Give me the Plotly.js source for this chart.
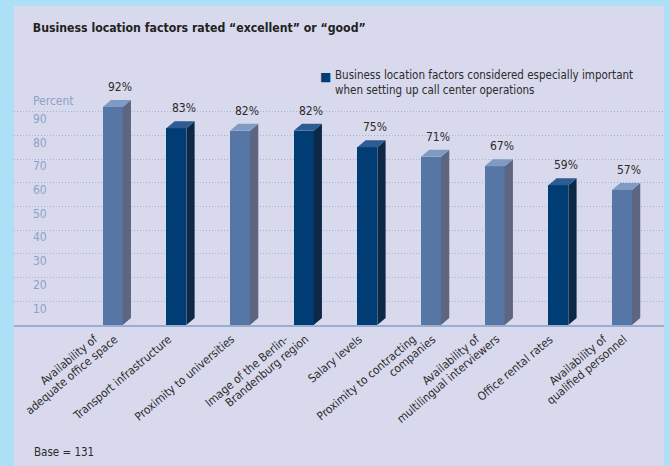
<!DOCTYPE html>
<html>
<head>
<meta charset="utf-8">
<script src="https://cdn.plot.ly/plotly-3.0.1.min.js"></script>
<style>html,body{margin:0;padding:0;background:#ade0f6;}#chart{width:670px;height:466px;}</style>
</head>
<body>
<div id="chart"></div>
<script>
// ---- data ----
const categories = [
  "Availability of<br>adequate office space",
  "Transport infrastructure",
  "Proximity to universities",
  "Image of the Berlin-<br>Brandenburg region",
  "Salary levels",
  "Proximity to contracting<br>companies",
  "Availability of<br>multilingual interviewers",
  "Office rental rates",
  "Availability of<br>qualified personnel"
];
const values = [92, 83, 82, 82, 75, 71, 67, 59, 57];
const important = [false, true, false, true, true, false, false, true, false];
const yTicks = [10, 20, 30, 40, 50, 60, 70, 80, 90];
const legendText = "Business location factors considered especially important<br>when setting up call center operations";

// ---- style ----
const FONT = "'Liberation Sans Narrow', 'DejaVu Sans Condensed', 'Noto Sans', sans-serif";
const TXT = "#2b2b2b";
const light = {front: "#5676a6", side: "#5d6580", top: "#7f9bc5"};
const dark  = {front: "#003d74", side: "#0c2846", top: "#2d5b93"};
const W = 0.314;   // front width in category units
const DX = 0.13;   // depth offset x
const DY = 2.95;   // depth offset y

const idx = values.map((v, i) => i);
function frontTrace(flag, c) {
  const xs = [], ys = [];
  idx.forEach(i => { if (important[i] === flag) { xs.push(i); ys.push(values[i]); } });
  return {type: "bar", x: xs, y: ys, width: W, marker: {color: c.front, line: {width: 0}},
          showlegend: false, hoverinfo: "skip"};
}
function sideTrace(flag, c) {
  const xs = [], ys = [];
  idx.forEach(i => {
    if (important[i] !== flag) return;
    const r = i + W / 2, v = values[i];
    xs.push(r, r + DX, r + DX, r, r, null);
    ys.push(0, DY, v + DY, v, 0, null);
  });
  return {type: "scatter", mode: "lines", x: xs, y: ys, fill: "toself", fillcolor: c.side,
          line: {width: 0, color: c.side}, showlegend: false, hoverinfo: "skip"};
}
function topTrace(flag, c) {
  const xs = [], ys = [];
  idx.forEach(i => {
    if (important[i] !== flag) return;
    const l = i - W / 2, r = i + W / 2, v = values[i];
    xs.push(l, r, r + DX, l + DX, l, null);
    ys.push(v, v, v + DY, v + DY, v, null);
  });
  return {type: "scatter", mode: "lines", x: xs, y: ys, fill: "toself", fillcolor: c.top,
          line: {width: 0, color: c.top}, showlegend: false, hoverinfo: "skip"};
}

const data = [
  frontTrace(false, light), frontTrace(true, dark),
  sideTrace(false, light), sideTrace(true, dark),
  topTrace(false, light), topTrace(true, dark)
];

// value labels
const annotations = values.map((v, i) => ({
  x: i + DX / 2 + 0.05, y: v + DY, xref: "x", yref: "y", text: v + "%",
  showarrow: false, yanchor: "bottom", yshift: 4,
  font: {family: FONT, size: 12, color: TXT}
}));
// category labels: each line rotated, its end hugging the axis
const TICK_SIZE = 11.6, LINE_H = TICK_SIZE * 1.3;
const ang = 40 * Math.PI / 180;
categories.forEach((c, i) => {
  const lines = c.split("<br>");
  const offs = lines.length === 1 ? [-1] : [-11, 9];
  lines.forEach((ln, k) => {
    annotations.push({
      x: i, y: 0, xref: "x", yref: "y", text: ln, textangle: -40,
      xanchor: "right", yanchor: "top", showarrow: false, borderpad: 0,
      xshift: offs[k] - 5 + LINE_H * Math.sin(ang) / 2, yshift: LINE_H * Math.cos(ang) / 2 - 12,
      font: {family: FONT, size: TICK_SIZE, color: TXT}
    });
  });
});
annotations.push({
  xref: "paper", yref: "paper", x: 0.027, y: 0.945, xanchor: "left", yanchor: "middle",
  text: "Percent", showarrow: false, borderpad: 0, font: {family: FONT, size: 12, color: "#8ea2c9"}
});
annotations.push({
  xref: "paper", yref: "paper", x: 0.029, y: -0.535, xanchor: "left", yanchor: "middle",
  text: "Base = 131", showarrow: false, borderpad: 0, font: {family: FONT, size: 11.5, color: TXT}
});
// legend (key square + text)
annotations.push({
  xref: "paper", yref: "paper", x: (325.5 - 14) / 650, y: 1 + (88 - 76.5) / 237,
  xanchor: "center", yanchor: "middle", text: "■", showarrow: false, borderpad: 0,
  font: {family: "DejaVu Sans", size: 12, color: dark.front}
});
annotations.push({
  xref: "paper", yref: "paper", x: (334 - 14) / 650, y: 1 + (88 - 67) / 237,
  xanchor: "left", yanchor: "top", align: "left", text: legendText, showarrow: false, borderpad: 0,
  font: {family: FONT, size: 11.5, color: TXT}
});

const layout = {
  width: 670, height: 466,
  margin: {l: 14, r: 6, t: 88, b: 141, pad: 0, autoexpand: false},
  paper_bgcolor: "#ade0f6",
  plot_bgcolor: "rgba(0,0,0,0)",
  title: {text: "Business location factors rated “excellent” or “good”",
          font: {family: FONT, size: 12.2, color: "#222", weight: "bold"},
          x: 0.029, xanchor: "left", xref: "paper", y: 0.94, yanchor: "middle", yref: "container"},
  showlegend: false,
  xaxis: {range: [-1.55, 8.66], tickvals: idx, showticklabels: false, automargin: false,
          showgrid: false, zeroline: false, showline: true, linecolor: "#9aaed3", linewidth: 2,
          ticks: "", fixedrange: true},
  yaxis: {range: [0, 100], tickvals: yTicks, showgrid: true, gridcolor: "#9fb2d8", griddash: "1px,2px",
          gridwidth: 1, zeroline: false, showline: false, ticks: "", automargin: false,
          ticklabelposition: "inside", ticklabelshift: 7, ticklabelstandoff: 16,
          tickfont: {family: FONT, size: 12, color: "#8ea2c9"}, fixedrange: true},
  shapes: [{type: "rect", xref: "paper", yref: "paper", x0: 0, x1: 1,
            y0: -141 / 237, y1: 1 + 82 / 237, fillcolor: "#d8d9ed", line: {width: 0}, layer: "below"}],
  annotations: annotations,
  bargap: 0
};

Plotly.newPlot("chart", data, layout, {displayModeBar: false, staticPlot: true});
</script>
</body>
</html>
